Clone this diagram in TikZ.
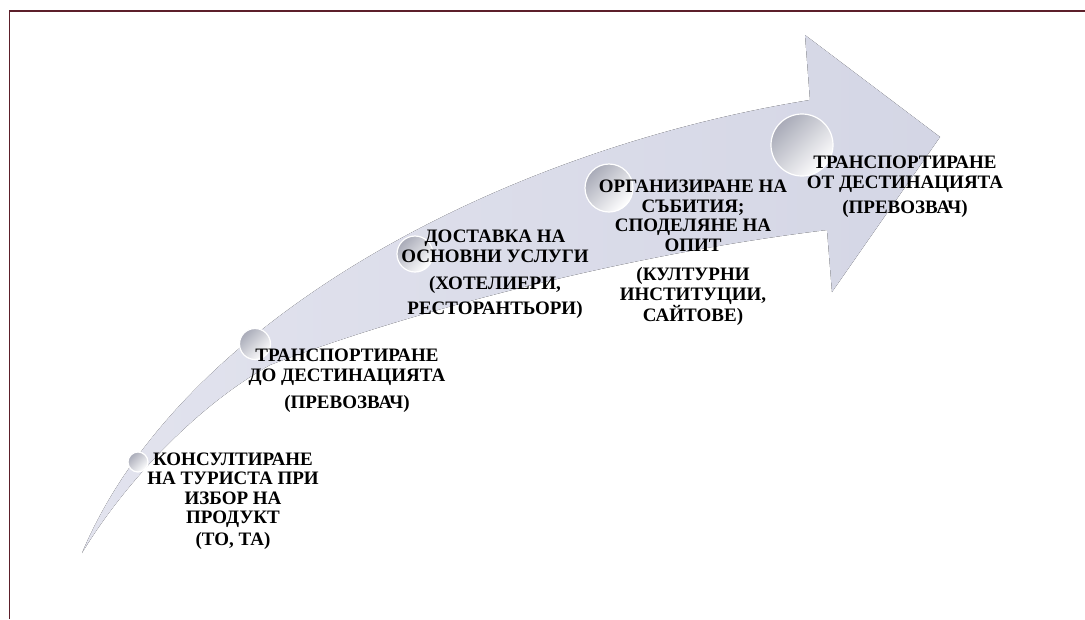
\documentclass[tikz,border=0pt]{standalone}
\usepackage{fontspec}
\setmainfont{Liberation Serif}
\usepackage{tikz}
\usetikzlibrary{positioning}
\definecolor{frame}{HTML}{5C1F2A}
\definecolor{band}{HTML}{D4D6E5}
\definecolor{bandlight}{HTML}{E2E3EE}
\definecolor{ball}{HTML}{A9ABB8}

\tikzset{
  stage/.style={font=\fontsize{19}{19.5}\selectfont\bfseries, align=center, inner sep=0pt},
  sphere/.style={top color=ball, bottom color=white, shading angle=45, draw=white, line width=1.2pt}
}

\begin{document}
\begin{tikzpicture}[x=1pt, y=-1pt]
\useasboundingbox (0,0) rectangle (1085,619);

% page frame
\draw[frame, line width=1.8pt] (9.5,619) -- (9.5,11) -- (1085,11);

% curved arrow
\fill[left color=bandlight, right color=band]
  (82,553) .. controls (180,320) and (500,150) .. (810,100)
  -- (805,35) -- (940,137) -- (832,292) -- (827,230)
  .. controls (620,255) and (400,315) .. (270,365)
  .. controls (190,410) and (120,490) .. (82,553)
  -- cycle;

% spheres on the arrow
\shade[sphere] (138,462) circle (10pt);
\shade[sphere] (255,344) circle (15.5pt);
\shade[sphere] (415,254) circle (18pt);
\shade[sphere] (609,188) circle (24pt);
\shade[sphere] (802,145) circle (31pt);

% stages
\node[stage] (consult) at (233,501) {КОНСУЛТИРАНЕ\\НА ТУРИСТА ПРИ\\ИЗБОР НА\\ПРОДУКТ\\[2pt](ТО, ТА)};
\node[stage] (transto) at (347,381) {ТРАНСПОРТИРАНЕ\\ДО ДЕСТИНАЦИЯТА\\[8pt](ПРЕВОЗВАЧ)};
\node[stage] (delivery) at (495,274) {ДОСТАВКА НА\\ОСНОВНИ УСЛУГИ\\[8pt](ХОТЕЛИЕРИ,\\[5pt]РЕСТОРАНТЬОРИ)};
\node[stage] (events) at (693,253) {ОРГАНИЗИРАНЕ НА\\СЪБИТИЯ;\\СПОДЕЛЯНЕ НА\\ОПИТ\\[10pt](КУЛТУРНИ\\ИНСТИТУЦИИ,\\САЙТОВЕ)};
\node[stage] (transfrom) at (905,187) {ТРАНСПОРТИРАНЕ\\ОТ ДЕСТИНАЦИЯТА\\[6pt](ПРЕВОЗВАЧ)};
\end{tikzpicture}
\end{document}
